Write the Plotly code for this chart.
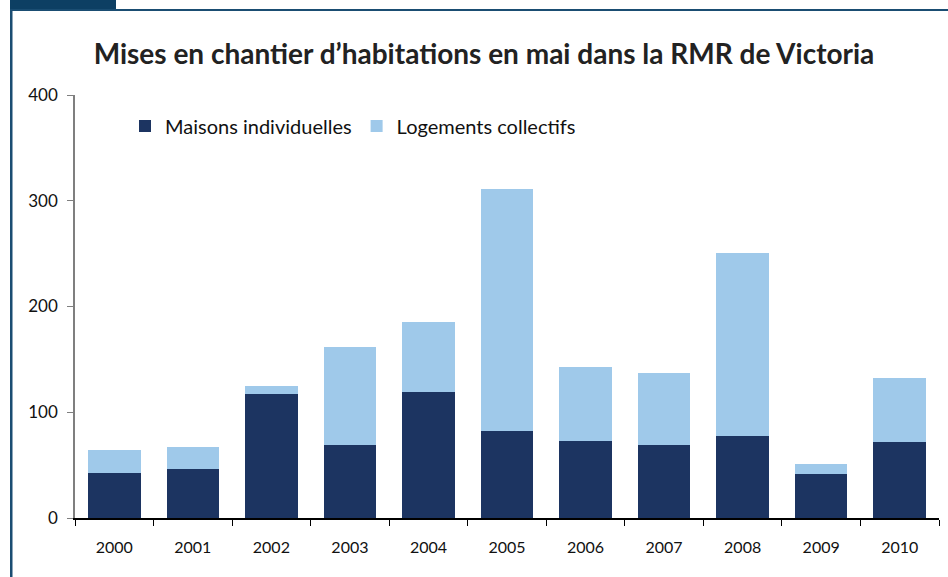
import plotly.graph_objects as go

years = ["2000", "2001", "2002", "2003", "2004", "2005", "2006", "2007", "2008", "2009", "2010"]
maisons = [43, 46, 117, 69, 119, 82, 73, 69, 78, 42, 72]
collectifs = [21, 21, 8, 93, 66, 229, 70, 68, 173, 9, 60]
y_ticks = [0, 100, 200, 300, 400]

W, H = 948, 577
L, R, T, B = 75, 9, 95, 59
pw, ph = W - L - R, H - T - B

def px(x):
    return (x - L) / pw

def py(y):
    return (H - B - y) / ph

font_family = "Lato, 'Open Sans', sans-serif"

fig = go.Figure()
fig.add_trace(go.Bar(x=years, y=maisons, name="Maisons individuelles",
                     marker=dict(color="#1c3461", line=dict(width=0))))
fig.add_trace(go.Bar(x=years, y=collectifs, name="Logements collectifs",
                     marker=dict(color="#9fc9ea", line=dict(width=0))))

fig.update_layout(
    width=W, height=H,
    barmode="stack", bargap=0.33,
    margin=dict(l=L, r=R, t=T, b=B),
    paper_bgcolor="white", plot_bgcolor="white",
    font=dict(family=font_family, color="#111111", size=16),
    title=dict(text="<b>Mises en chantier d’habitations en mai dans la RMR de Victoria</b>",
               x=px(484), xref="paper", xanchor="center", y=1 - 54 / H, yanchor="middle",
               font=dict(size=28, family=font_family, color="#222222")),
    legend=dict(orientation="h", x=px(125), xanchor="left", y=py(126), yanchor="middle",
                font=dict(size=20), bgcolor="rgba(0,0,0,0)", traceorder="normal",
                itemwidth=30, tracegroupgap=0),
    showlegend=True,
    xaxis=dict(type="category", showgrid=False, showline=True, linecolor="#000000", linewidth=1.5,
               ticks="outside", tickson="boundaries", ticklen=6, tickcolor="#000000",
               tickfont=dict(size=16), ticklabelstandoff=14),
    yaxis=dict(range=[0, 400], tickvals=y_ticks, showgrid=False, showline=True,
               linecolor="#7f7f7f", linewidth=1.5, ticks="outside", ticklen=6, tickcolor="#7f7f7f",
               tickfont=dict(size=17), zeroline=False, ticklabelstandoff=6),
    shapes=[
        dict(type="rect", xref="paper", yref="paper", x0=px(10), x1=px(116), y0=py(0), y1=py(10),
             fillcolor="#0d3f63", line=dict(width=0), layer="above"),
        dict(type="rect", xref="paper", yref="paper", x0=px(10), x1=px(948), y0=py(9), y1=py(11),
             fillcolor="#1a4d72", line=dict(width=0), layer="above"),
        dict(type="rect", xref="paper", yref="paper", x0=px(10), x1=px(12.5), y0=py(9), y1=py(577),
             fillcolor="#1a4d72", line=dict(width=0), layer="above"),
    ],
)

fig.write_html("out.html", config={"displayModeBar": False},
               post_script="document.body.style.margin='0';document.body.style.overflow='hidden';")
